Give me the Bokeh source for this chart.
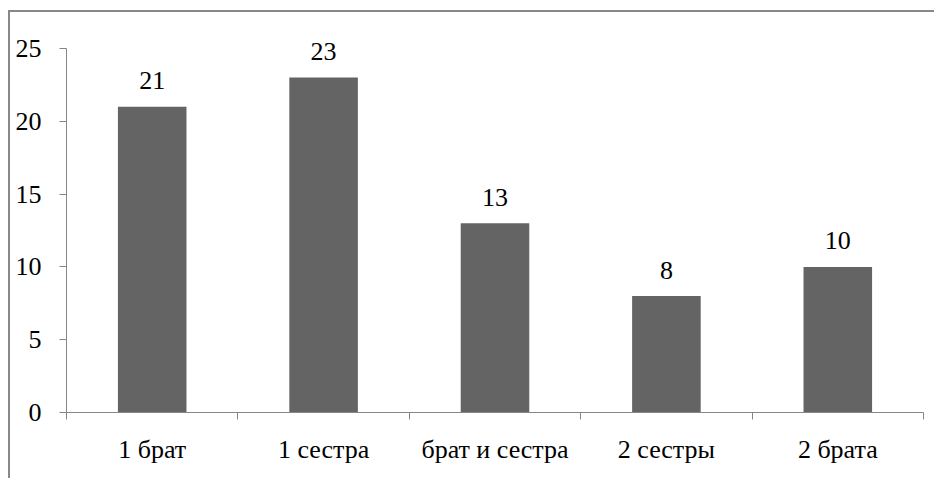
from bokeh.plotting import figure
from bokeh.models import FixedTicker, ColumnDataSource
from bokeh.core.properties import value
from bokeh.embed import file_html
from bokeh.resources import INLINE

categories = ["1 брат", "1 сестра", "брат и сестра", "2 сестры", "2 брата"]
counts = [21, 23, 13, 8, 10]
y_ticks = [0, 5, 10, 15, 20, 25]
y_max = 25

FONT = "'Liberation Serif'"
AX = "#868686"

centers = [i + 0.5 for i in range(len(categories))]
src = ColumnDataSource(dict(x=centers, top=counts, label=[str(v) for v in counts]))

# frame spans 400px; axis runs 0..25 over 364px, leaving headroom for labels
p = figure(width=926, height=468, output_backend="svg", toolbar_location=None,
           x_range=(0, len(categories)), y_range=(0, y_max * 400 / 364),
           min_border_left=56, min_border_top=0, min_border_right=13, min_border_bottom=68)
p.margin = (10, 0, 0, 8)
p.styles = {"border-left": "2px solid #888888", "border-top": "2px solid #888888"}
p.outline_line_color = None
p.grid.grid_line_color = None

p.vbar(x="x", top="top", width=0.4, bottom=0, source=src, fill_color="#646464", line_color=None)
p.text(x="x", y="top", text="label", source=src, text_align="center", text_baseline="alphabetic",
       y_offset=-26, text_font=value(FONT), text_font_size="26px", text_color="black")

xa = p.xaxis[0]
xa.ticker = FixedTicker(ticks=centers, minor_ticks=list(range(len(categories) + 1)))
xa.major_label_overrides = {c: lab for c, lab in zip(centers, categories)}
xa.major_tick_line_color = None
xa.minor_tick_in = 0
xa.minor_tick_out = 7
xa.minor_tick_line_color = AX
xa.axis_line_color = AX
xa.major_label_standoff = 15
xa.major_label_text_font = FONT
xa.major_label_text_font_size = "26px"
xa.major_label_text_color = "black"

ya = p.yaxis[0]
ya.ticker = FixedTicker(ticks=y_ticks)
ya.bounds = (0, y_max)
ya.major_tick_in = 0
ya.major_tick_out = 7
ya.minor_tick_line_color = None
ya.major_tick_line_color = AX
ya.axis_line_color = AX
ya.major_label_standoff = 18
ya.major_label_text_font = FONT
ya.major_label_text_font_size = "26px"
ya.major_label_text_color = "black"

open("out.html", "w").write(file_html(p, INLINE))
